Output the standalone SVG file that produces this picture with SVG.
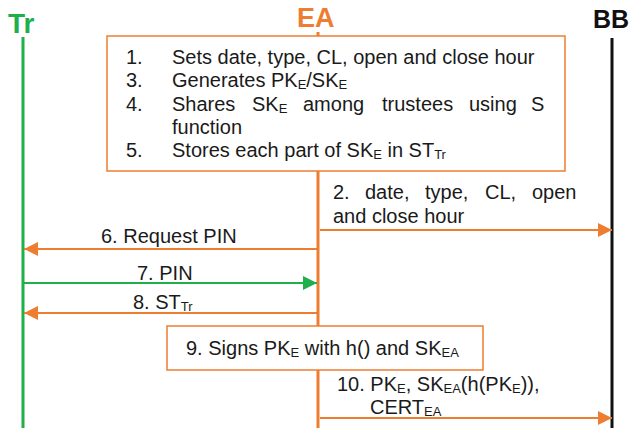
<svg xmlns="http://www.w3.org/2000/svg" width="636" height="428" viewBox="0 0 636 428">
  <style>
    text { font-family: "Liberation Sans", Arial, sans-serif; fill: #1a1a1a; font-size: 20px; }
    .head { font-weight: bold; }
    .sub { font-size: 13px; }
    .life-or { stroke: #ed7d31; stroke-width: 3; }
    .life-gr { stroke: #1fb04c; stroke-width: 3; }
    .life-bk { stroke: #111; stroke-width: 3; }
    .note { fill: #fff; stroke: #ed7d31; stroke-width: 1.5; }
    .msg-or { stroke: #ed7d31; stroke-width: 2; fill: none; }
    .msg-gr { stroke: #1fb04c; stroke-width: 2; fill: none; }
  </style>
  <defs>
    <marker id="arrow-or" markerUnits="userSpaceOnUse" markerWidth="15" markerHeight="14" refX="14" refY="7" orient="auto">
      <path d="M0,0 L14,7 L0,14 z" fill="#ed7d31"/>
    </marker>
    <marker id="arrow-gr" markerUnits="userSpaceOnUse" markerWidth="15" markerHeight="14" refX="14" refY="7" orient="auto">
      <path d="M0,0 L14,7 L0,14 z" fill="#1fb04c"/>
    </marker>
  </defs>

  <rect width="636" height="428" fill="#fff"/>

  <!-- participants -->
  <g id="tr">
    <text class="head" x="8" y="33" font-size="28" style="fill:#1fb04c;font-size:28px">Tr</text>
    <line class="life-gr" x1="23" y1="37" x2="23" y2="428"/>
  </g>
  <g id="ea">
    <text class="head" x="297" y="27" style="fill:#ed7d31;font-size:27px">EA</text>
    <line class="life-or" x1="318" y1="32" x2="318" y2="428"/>
  </g>
  <g id="bb">
    <text class="head" x="593" y="28" style="fill:#111;font-size:25px">BB</text>
    <line class="life-bk" x1="612" y1="38" x2="612" y2="428"/>
  </g>

  <!-- EA set-up steps -->
  <g id="setup-note">
    <rect class="note" x="107" y="36" width="458" height="135"/>
    <text x="126" y="64">1.</text>
    <text x="172" y="64">Sets date, type, CL, open and close hour</text>
    <text x="126" y="87">3.</text>
    <text x="172" y="87">Generates PK<tspan class="sub" dy="2">E</tspan><tspan dy="-2">/SK</tspan><tspan class="sub" dy="2">E</tspan></text>
    <text x="126" y="111">4.</text>
    <text y="111"><tspan x="172">Shares</tspan><tspan x="252">SK</tspan><tspan class="sub" dy="2">E</tspan><tspan x="303" dy="-2">among</tspan><tspan x="382">trustees</tspan><tspan x="469">using</tspan><tspan x="531">S</tspan></text>
    <text x="172" y="134">function</text>
    <text x="126" y="157">5.</text>
    <text x="172" y="157">Stores each part of SK<tspan class="sub" dy="2">E</tspan><tspan dy="-2"> in ST</tspan><tspan class="sub" dy="2">Tr</tspan></text>
  </g>

  <!-- signing step -->
  <g id="sign-note">
    <rect class="note" x="167" y="326" width="316" height="44"/>
    <text x="186" y="355">9. Signs PK<tspan class="sub" dy="2">E</tspan><tspan dy="-2"> with h() and SK</tspan><tspan class="sub" dy="2">EA</tspan></text>
  </g>

  <!-- messages -->
  <g id="connectors">
    <line class="msg-or" x1="320" y1="230" x2="612" y2="230" marker-end="url(#arrow-or)"/>
    <text y="199"><tspan x="333">2.</tspan><tspan x="365">date,</tspan><tspan x="425">type,</tspan><tspan x="485">CL,</tspan><tspan x="532">open</tspan></text>
    <text x="333" y="223">and close hour</text>

    <line class="msg-or" x1="317" y1="249" x2="24" y2="249" marker-end="url(#arrow-or)"/>
    <text x="101" y="243">6. Request PIN</text>

    <line class="msg-gr" x1="24" y1="283" x2="317" y2="283" marker-end="url(#arrow-gr)"/>
    <text x="137" y="280">7. PIN</text>

    <line class="msg-or" x1="317" y1="313" x2="24" y2="313" marker-end="url(#arrow-or)"/>
    <text x="133" y="309">8. ST<tspan class="sub" dy="2">Tr</tspan></text>

    <line class="msg-or" x1="320" y1="418" x2="612" y2="418" marker-end="url(#arrow-or)"/>
    <text x="337" y="391">10. PK<tspan class="sub" dy="2">E</tspan><tspan dy="-2">, SK</tspan><tspan class="sub" dy="2">EA</tspan><tspan dy="-2">(h(PK</tspan><tspan class="sub" dy="2">E</tspan><tspan dy="-2">)),</tspan></text>
    <text x="370" y="414">CERT<tspan class="sub" dy="2">EA</tspan></text>
  </g>
</svg>
